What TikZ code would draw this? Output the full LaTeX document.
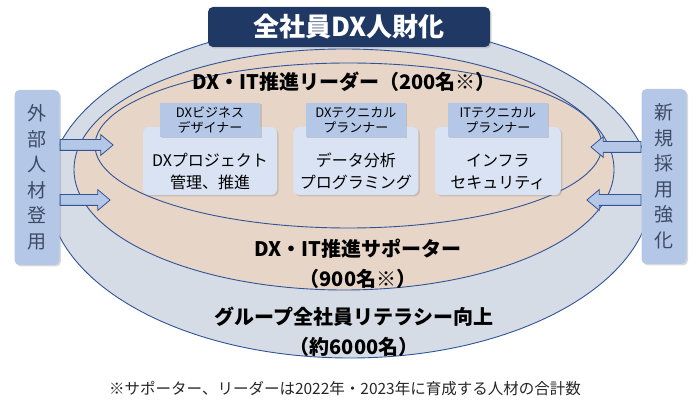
\documentclass[tikz,border=0pt]{standalone}
\usepackage{fontspec}
\setmainfont{Noto Sans CJK JP}
\usepackage{xcolor}
\usetikzlibrary{positioning, shapes.geometric, shapes.arrows, shadows}
\definecolor{navy}{HTML}{1F3864}
\definecolor{rimblue}{HTML}{2F5597}
\definecolor{paleblue}{HTML}{B4C7E7}
\definecolor{mistblue}{HTML}{DAE3F3}
\definecolor{graysky}{HTML}{D6DCE5}
\definecolor{peach}{HTML}{E7D5C8}
\definecolor{slateink}{HTML}{3B4B66}
\definecolor{ink}{HTML}{262626}
\newcommand{\toppad}{\rule{0pt}{34pt}}
\tikzset{
    ring/.style={ellipse, draw=rimblue, line width=0.9pt, inner sep=0pt},
    softshadow/.style={drop shadow={opacity=0.3, shadow xshift=1.5pt, shadow yshift=-1.5pt}},
    titlebox/.style={fill=navy, rounded corners=5pt, text=white, softshadow,
                minimum width=282pt, minimum height=40pt, font=\fontsize{26pt}{30pt}\selectfont\bfseries},
    settext/.style={align=center, text=black, font=\fontsize{20pt}{30pt}\selectfont\bfseries},
    rolebox/.style={fill=mistblue, rounded corners=6pt, softshadow, align=center, text=black,
                minimum height=68pt, inner sep=0pt, font=\fontsize{16pt}{22pt}\selectfont},
    rolelabel/.style={fill=paleblue, softshadow, align=center, text=black, minimum width=100pt,
                minimum height=34pt, inner sep=0pt, font=\fontsize{13pt}{15pt}\selectfont},
    sidebox/.style={fill=paleblue, rounded corners=5pt, softshadow, align=center, text=slateink,
                minimum width=45pt, minimum height=175pt, font=\fontsize{19pt}{25.5pt}\selectfont},
    inarrow/.style={single arrow, draw=rimblue, line width=0.8pt, fill=paleblue, inner sep=5pt,
                single arrow head extend=5pt, single arrow tip angle=80, anchor=tail},
    notetext/.style={text=ink, font=\fontsize{15.5pt}{18pt}\selectfont}
}

\begin{document}
\begin{tikzpicture}[x=1pt, y=-1pt, node distance=16pt]
    \useasboundingbox (0,0) rectangle (696,411);
    % nested groups
    \node[ring, fill=graysky, minimum width=604pt, minimum height=335pt] (allstaff) at (350,190.5) {};
    \node[ring, fill=peach, minimum width=540pt, minimum height=241pt] (supporter) at (344,169.5) {};
    \node[ring, fill=peach, minimum width=507pt, minimum height=165pt] (leader) at (348.5,145.5) {};
    \node[titlebox] (title) at (349,27) {全社員DX人財化};
    \node[settext] (leadertxt) at (344,82) {DX・IT推進リーダー（200名※）};
    \node[settext] (supptxt) at (358,264) {DX・IT推進サポーター\\（900名※）};
    \node[settext] (alltxt) at (354,332) {グループ全社員リテラシー向上\\（約6000名）};
    % roles
    \node[rolebox, minimum width=134pt] (dxproj) at (210,161) {\toppad DXプロジェクト\\管理、推進};
    \node[rolebox, minimum width=125pt, right=of dxproj] (dataprog) {\toppad データ分析\\プログラミング};
    \node[rolebox, minimum width=126pt, right=of dataprog] (infrasec) {\toppad インフラ\\セキュリティ};
    \node[rolelabel, above=-10pt of dxproj] (bizdes) {DXビジネス\\デザイナー};
    \node[rolelabel, above=-10pt of dataprog] (dxplan) {DXテクニカル\\プランナー};
    \node[rolelabel, above=-10pt of infrasec] (itplan) {ITテクニカル\\プランナー};
    % recruitment
    \node[sidebox] (extbox) at (37,177.5) {外\\部\\人\\材\\登\\用};
    \node[sidebox] (newbox) at (664,176.5) {新\\規\\採\\用\\強\\化};
    \node[inarrow, minimum height=53pt] (extin1) at ([yshift=32.5pt]extbox.east) {};
    \node[inarrow, minimum height=50pt] (extin2) at ([yshift=-22.5pt]extbox.east) {};
    \node[inarrow, shape border rotate=180, minimum height=50pt] (newin1) at ([yshift=29.5pt]newbox.west) {};
    \node[inarrow, shape border rotate=180, minimum height=54pt] (newin2) at ([yshift=-23.5pt]newbox.west) {};
    \node[notetext] (note) at (345,389) {※サポーター、リーダーは2022年・2023年に育成する人材の合計数};
\end{tikzpicture}
\end{document}
